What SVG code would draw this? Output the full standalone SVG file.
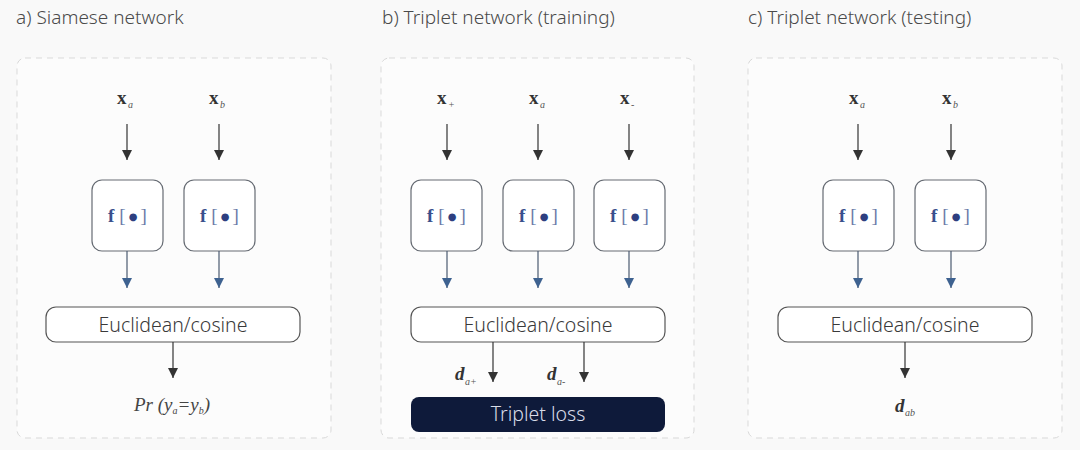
<svg xmlns="http://www.w3.org/2000/svg" width="1080" height="450" viewBox="0 0 1080 450">
<defs>
<marker id="ah" viewBox="0 0 10 10" refX="10" refY="5" markerWidth="10" markerHeight="10" markerUnits="userSpaceOnUse" orient="auto">
<path d="M0,0 L10,5 L0,10 z" fill="#333"/>
</marker>
<marker id="ahb" viewBox="0 0 10 10" refX="10" refY="5" markerWidth="10" markerHeight="10" markerUnits="userSpaceOnUse" orient="auto">
<path d="M0,0 L10,5 L0,10 z" fill="#3e6290"/>
</marker>
</defs>
<style>
.title{font-family:"Noto Sans","Open Sans",sans-serif;font-size:19px;fill:#4a4a4a;font-weight:300}
.panel{fill:#fcfcfc;stroke:#d9d9d9;stroke-width:1;stroke-dasharray:6,5}
.fbox{fill:#ffffff;stroke:#666b73;stroke-width:1.2}
.ebox{fill:#ffffff;stroke:#555;stroke-width:1.2}
.lbox{fill:#0e1a3a}
.ftxt{font-family:"Liberation Serif",serif;font-size:19px;fill:#3a4f8c;text-anchor:middle}
.fb{font-weight:bold}
.br{fill:#6a7aa8}
.dot{font-family:"DejaVu Sans",sans-serif;font-size:10px;fill:#2e3f80}
.etxt{font-family:"Noto Sans","Open Sans",sans-serif;font-size:19.5px;fill:#3a3a3a;text-anchor:middle;font-weight:300}
.ltxt{font-family:"Noto Sans","Open Sans",sans-serif;font-size:19.5px;fill:#d8dce8;text-anchor:middle;font-weight:300}
.x{font-family:"Liberation Serif",serif;font-weight:bold;font-size:19px;fill:#333}
.sub{font-family:"Liberation Serif",serif;font-style:italic;font-size:10px;fill:#555}
.math{font-family:"Liberation Serif",serif;font-style:italic;font-size:19px;fill:#444}
.d{font-family:"Liberation Serif",serif;font-style:italic;font-weight:bold;font-size:19px;fill:#333}
.a{stroke:#333;stroke-width:1.2;fill:none;marker-end:url(#ah)}
.ab{stroke:#4a5a70;stroke-width:1.2;fill:none;marker-end:url(#ahb)}
</style>
<rect width="1080" height="450" fill="#f9f9f9"/>

<g id="panel-a">
<text class="title" x="16" y="24">a) Siamese network</text>
<rect class="panel" x="17" y="58" width="314" height="380" rx="8"/>
</g>
<g id="panel-b">
<text class="title" x="382" y="24">b) Triplet network (training)</text>
<rect class="panel" x="381" y="58" width="313" height="380" rx="8"/>
</g>
<g id="panel-c">
<text class="title" x="748" y="24">c) Triplet network (testing)</text>
<rect class="panel" x="748" y="58" width="314" height="380" rx="8"/>
</g>

<!-- panel a nodes -->
<g id="a-xa"><text class="x" x="117" y="104">x</text><text class="sub" x="128" y="108">a</text></g>
<g id="a-xb"><text class="x" x="209" y="104">x</text><text class="sub" x="220" y="108">b</text></g>
<g id="a-f1"><rect class="fbox" x="92" y="180" width="71" height="71" rx="10"/><text class="ftxt" x="127.5" y="222"><tspan class="fb">f</tspan> <tspan class="br">[</tspan><tspan class="dot" dy="-2"> ● </tspan><tspan class="br" dy="2">]</tspan></text></g>
<g id="a-f2"><rect class="fbox" x="184" y="180" width="71" height="71" rx="10"/><text class="ftxt" x="219.5" y="222"><tspan class="fb">f</tspan> <tspan class="br">[</tspan><tspan class="dot" dy="-2"> ● </tspan><tspan class="br" dy="2">]</tspan></text></g>
<g id="a-euc"><rect class="ebox" x="46" y="307" width="254" height="35" rx="10"/><text class="etxt" x="173" y="332">Euclidean/cosine</text></g>
<g id="a-pr"><text class="math" x="172" y="411" text-anchor="middle">Pr (y<tspan font-size="10" dy="3">a</tspan><tspan dy="-3">=y</tspan><tspan font-size="10" dy="3">b</tspan><tspan dy="-3">)</tspan></text></g>

<!-- panel b nodes -->
<g id="b-xp"><text class="x" x="437" y="104">x</text><text class="sub" x="448" y="108">+</text></g>
<g id="b-xa"><text class="x" x="529" y="104">x</text><text class="sub" x="540" y="108">a</text></g>
<g id="b-xm"><text class="x" x="620" y="104">x</text><text class="sub" x="631" y="108">-</text></g>
<g id="b-f1"><rect class="fbox" x="411" y="180" width="71" height="71" rx="10"/><text class="ftxt" x="446.5" y="222"><tspan class="fb">f</tspan> <tspan class="br">[</tspan><tspan class="dot" dy="-2"> ● </tspan><tspan class="br" dy="2">]</tspan></text></g>
<g id="b-f2"><rect class="fbox" x="503" y="180" width="71" height="71" rx="10"/><text class="ftxt" x="538.5" y="222"><tspan class="fb">f</tspan> <tspan class="br">[</tspan><tspan class="dot" dy="-2"> ● </tspan><tspan class="br" dy="2">]</tspan></text></g>
<g id="b-f3"><rect class="fbox" x="594" y="180" width="71" height="71" rx="10"/><text class="ftxt" x="629.5" y="222"><tspan class="fb">f</tspan> <tspan class="br">[</tspan><tspan class="dot" dy="-2"> ● </tspan><tspan class="br" dy="2">]</tspan></text></g>
<g id="b-euc"><rect class="ebox" x="411" y="307" width="254" height="35" rx="10"/><text class="etxt" x="538" y="332">Euclidean/cosine</text></g>
<g id="b-dp"><text class="d" x="455" y="380">d</text><text class="sub" x="465" y="385">a+</text></g>
<g id="b-dm"><text class="d" x="547" y="380">d</text><text class="sub" x="557" y="385">a-</text></g>
<g id="b-loss"><rect class="lbox" x="411" y="397" width="254" height="35" rx="8"/><text class="ltxt" x="538" y="421">Triplet loss</text></g>

<!-- panel c nodes -->
<g id="c-xa"><text class="x" x="849" y="104">x</text><text class="sub" x="860" y="108">a</text></g>
<g id="c-xb"><text class="x" x="942" y="104">x</text><text class="sub" x="953" y="108">b</text></g>
<g id="c-f1"><rect class="fbox" x="823" y="180" width="71" height="71" rx="10"/><text class="ftxt" x="858.5" y="222"><tspan class="fb">f</tspan> <tspan class="br">[</tspan><tspan class="dot" dy="-2"> ● </tspan><tspan class="br" dy="2">]</tspan></text></g>
<g id="c-f2"><rect class="fbox" x="915" y="180" width="71" height="71" rx="10"/><text class="ftxt" x="950.5" y="222"><tspan class="fb">f</tspan> <tspan class="br">[</tspan><tspan class="dot" dy="-2"> ● </tspan><tspan class="br" dy="2">]</tspan></text></g>
<g id="c-euc"><rect class="ebox" x="778" y="307" width="254" height="35" rx="10"/><text class="etxt" x="905" y="332">Euclidean/cosine</text></g>
<g id="c-d"><text class="d" x="895" y="412">d</text><text class="sub" x="905" y="416">ab</text></g>

<g id="connectors">
<line class="a" x1="127" y1="124" x2="127" y2="160"/>
<line class="a" x1="219" y1="124" x2="219" y2="160"/>
<line class="ab" x1="127" y1="251" x2="127" y2="288"/>
<line class="ab" x1="219" y1="251" x2="219" y2="288"/>
<line class="a" x1="173" y1="342" x2="173" y2="378"/>

<line class="a" x1="447" y1="124" x2="447" y2="160"/>
<line class="a" x1="538" y1="124" x2="538" y2="160"/>
<line class="a" x1="629" y1="124" x2="629" y2="160"/>
<line class="ab" x1="447" y1="251" x2="447" y2="288"/>
<line class="ab" x1="538" y1="251" x2="538" y2="288"/>
<line class="ab" x1="629" y1="251" x2="629" y2="288"/>
<line class="a" x1="493" y1="342" x2="493" y2="382"/>
<line class="a" x1="584" y1="342" x2="584" y2="382"/>

<line class="a" x1="858" y1="124" x2="858" y2="160"/>
<line class="a" x1="951" y1="124" x2="951" y2="160"/>
<line class="ab" x1="858" y1="251" x2="858" y2="288"/>
<line class="ab" x1="951" y1="251" x2="951" y2="288"/>
<line class="a" x1="905" y1="342" x2="905" y2="378"/>
</g>
</svg>
